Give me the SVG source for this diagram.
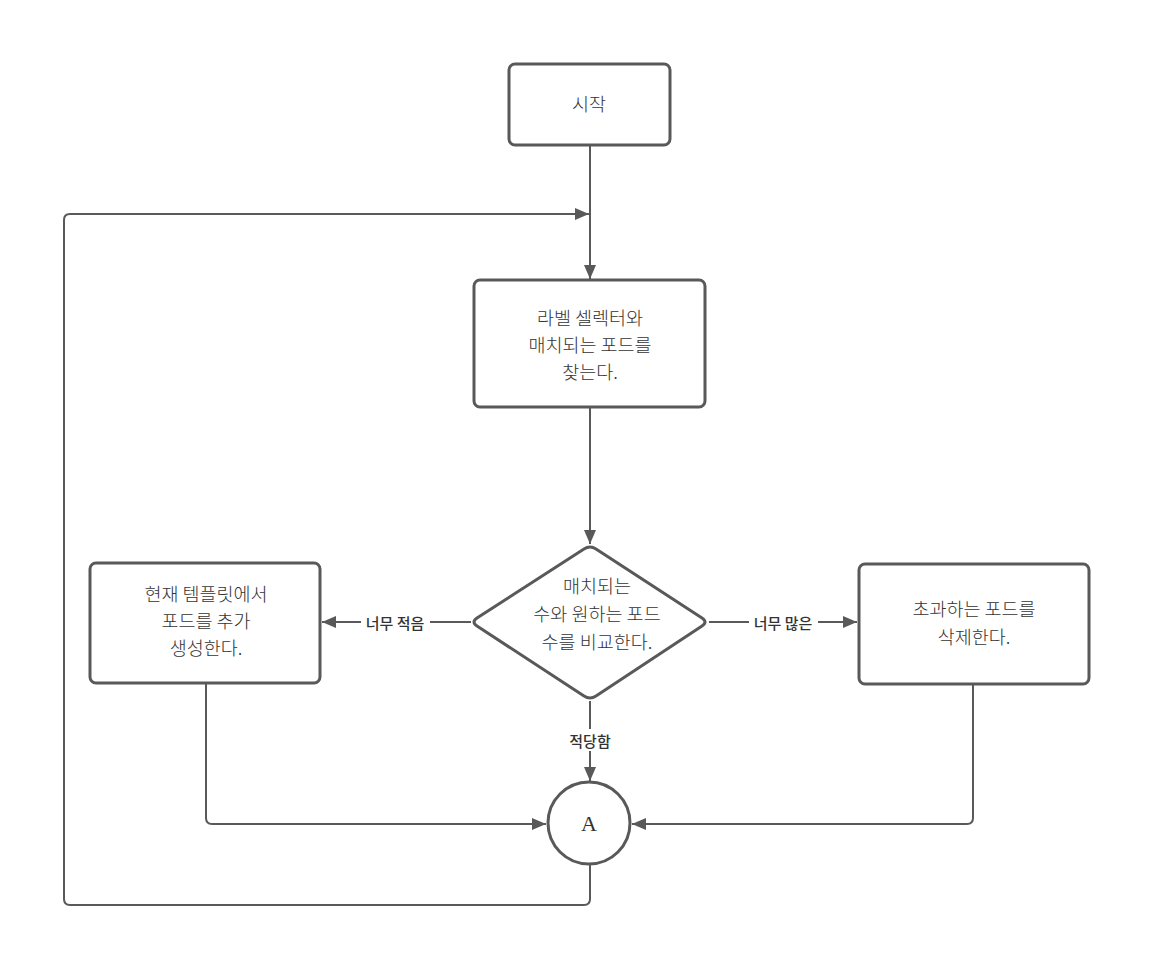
<svg xmlns="http://www.w3.org/2000/svg" width="1162" height="960" viewBox="0 0 1162 960">
<style>
.node{fill:#fff;stroke:#595959;stroke-width:3}
.t{font-family:"Noto Sans CJK KR","Noto Sans",sans-serif;font-size:18.5px;font-weight:300;fill:#333;text-anchor:middle;dominant-baseline:central}
.lbl{font-family:"Noto Sans CJK KR","Noto Sans",sans-serif;font-size:15px;font-weight:500;fill:#333;text-anchor:middle;dominant-baseline:central}
.c{fill:none;stroke:#595959;stroke-width:2}
</style>
<defs>
<marker id="ah" markerWidth="14" markerHeight="12" refX="14" refY="6" orient="auto" markerUnits="userSpaceOnUse">
<path d="M0,0 L14,6 L0,12 Z" fill="#595959"/>
</marker>
</defs>
<rect width="1162" height="960" fill="#fff"/>
<g id="connectors">
<path class="c" d="M590,145 V279" marker-end="url(#ah)"/>
<path class="c" d="M590,863 V899 Q590,905 584,905 H70 Q64,905 64,899 V220 Q64,214 70,214 H589" marker-end="url(#ah)"/>
<path class="c" d="M590,408 V544" marker-end="url(#ah)"/>
<path class="c" d="M471,622 H322" marker-end="url(#ah)"/>
<path class="c" d="M709,622 H857" marker-end="url(#ah)"/>
<path class="c" d="M590,701 V781" marker-end="url(#ah)"/>
<path class="c" d="M206,684 V818 Q206,824 212,824 H546" marker-end="url(#ah)"/>
<path class="c" d="M973,685 V818 Q973,824 967,824 H632" marker-end="url(#ah)"/>
<rect x="361" y="611" width="69" height="22" fill="#fff"/>
<text class="lbl" x="395" y="622">너무 적음</text>
<rect x="749" y="611" width="69" height="22" fill="#fff"/>
<text class="lbl" x="783" y="622">너무 많은</text>
<rect x="563" y="729" width="54" height="22" fill="#fff"/>
<text class="lbl" x="590" y="740">적당함</text>
</g>
<g id="start">
<rect class="node" x="509" y="64" width="161" height="81" rx="6"/>
<text class="t" x="589" y="103">시작</text>
</g>
<g id="find">
<rect class="node" x="474" y="280" width="231" height="127" rx="6"/>
<text class="t" x="590" y="317">라벨 셀렉터와</text>
<text class="t" x="590" y="344">매치되는 포드를</text>
<text class="t" x="590" y="371">찾는다.</text>
</g>
<g id="compare">
<path class="node" d="M584,549 Q590,545 596,549 L702,618 Q708,622 702,626 L596,696 Q590,700 584,696 L477,626 Q471,622 477,618 Z" stroke-linejoin="round"/>
<text class="t" x="597" y="585">매치되는</text>
<text class="t" x="597" y="613">수와 원하는 포드</text>
<text class="t" x="597" y="641">수를 비교한다.</text>
</g>
<g id="create">
<rect class="node" x="90" y="563" width="230" height="120" rx="6"/>
<text class="t" x="206" y="593">현재 템플릿에서</text>
<text class="t" x="206" y="620">포드를 추가</text>
<text class="t" x="206" y="647">생성한다.</text>
</g>
<g id="delete">
<rect class="node" x="859" y="564" width="230" height="120" rx="6"/>
<text class="t" x="974" y="608">초과하는 포드를</text>
<text class="t" x="974" y="636">삭제한다.</text>
</g>
<g id="connectorA">
<circle class="node" cx="589" cy="823" r="41"/>
<text x="589" y="823" font-family="'Liberation Serif',serif" font-size="22" fill="#333" text-anchor="middle" dominant-baseline="central">A</text>
</g>
</svg>
